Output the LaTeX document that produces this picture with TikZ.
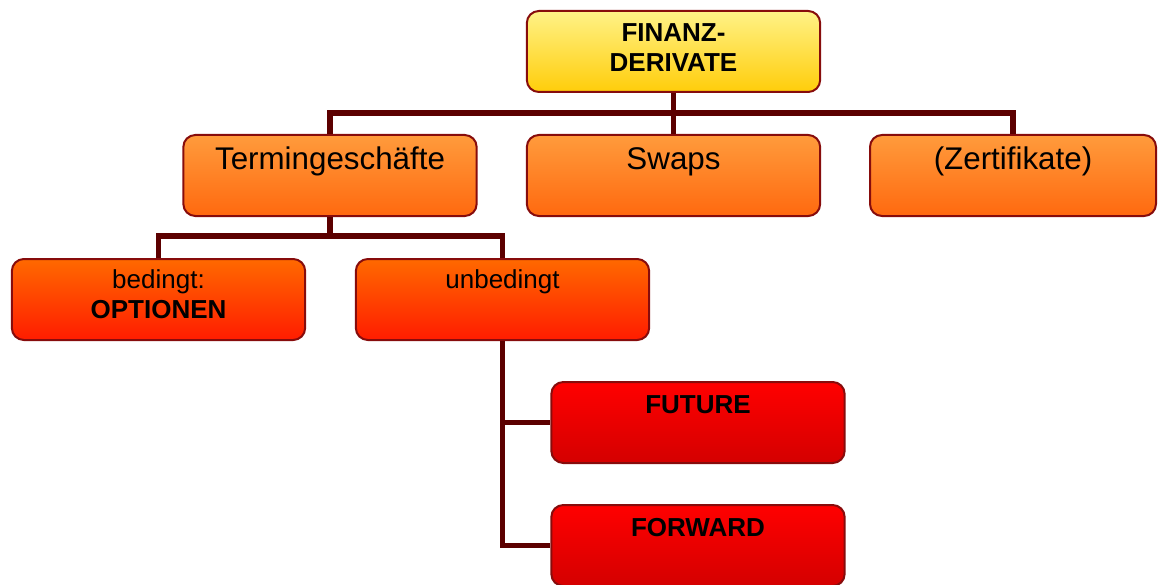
\documentclass[tikz,border=0pt]{standalone}
\usepackage{fontspec}
\setmainfont{Liberation Sans}
\usepackage{tikz}
\usetikzlibrary{positioning,calc}

\definecolor{rim}{RGB}{135,12,12}
\definecolor{linkcol}{RGB}{92,0,0}
\definecolor{yeltop}{RGB}{255,242,135}
\definecolor{yelbot}{RGB}{255,205,10}
\definecolor{ortop}{RGB}{255,155,60}
\definecolor{orbot}{RGB}{255,105,15}
\definecolor{redortop}{RGB}{255,105,0}
\definecolor{redorbot}{RGB}{255,28,0}
\definecolor{redtop}{RGB}{255,0,0}
\definecolor{redbot}{RGB}{212,0,0}

\tikzset{
box/.style={rectangle, rounded corners=9pt, draw=rim, line width=1.5pt, anchor=north,
            inner sep=0pt, text width=220pt, align=center,
            text height=23.25pt, text depth=37.5pt,
            font=\fontsize{19.5}{22.5}\selectfont},
rootbox/.style={box, top color=yeltop, bottom color=yelbot},
termbox/.style={box, top color=ortop, bottom color=orbot, text height=25.9pt, text depth=34.85pt,
            font=\fontsize{23.5}{27}\selectfont},
kindbox/.style={box, top color=redortop, bottom color=redorbot, text height=21.75pt, text depth=39pt},
dealbox/.style={box, top color=redtop, bottom color=redbot},
link/.style={draw=linkcol, line width=4.2pt}
}

\begin{document}
\begin{tikzpicture}[x=0.75pt, y=-0.75pt]
\useasboundingbox (0,0) rectangle (1158,585);

%Boxes
\node[rootbox] (fin) at (673.5,10) {\bfseries FINANZ-\\DERIVATE};
\node[termbox] (term) at (330,134) {Termingeschäfte};
\node[termbox] (swaps) at (673.5,134) {Swaps};
\node[termbox, text width=214.5pt] (zert) at (1013,134) {(Zertifikate)};
\node[kindbox] (opt) at (158.5,258) {bedingt:\\\bfseries OPTIONEN};
\node[kindbox] (unb) at (502.5,258) {unbedingt};
\node[dealbox] (fut) at (698,381) {\bfseries FUTURE};
\node[dealbox] (fwd) at (698,504) {\bfseries FORWARD};

%Connectors
\coordinate (bus1) at (673.5,113);
\coordinate (bus2) at (330,236);
\draw[link] (fin) -- (swaps);
\draw[link] (term.north) |- (bus1) -| (zert.north);
\draw[link] (term.south) -- (bus2);
\draw[link] (opt.north) |- (bus2) -| (unb.north);
\draw[link] (unb.south) |- (fwd.west);
\draw[link] (unb.south |- fut.west) -- (fut.west);

\end{tikzpicture}
\end{document}
